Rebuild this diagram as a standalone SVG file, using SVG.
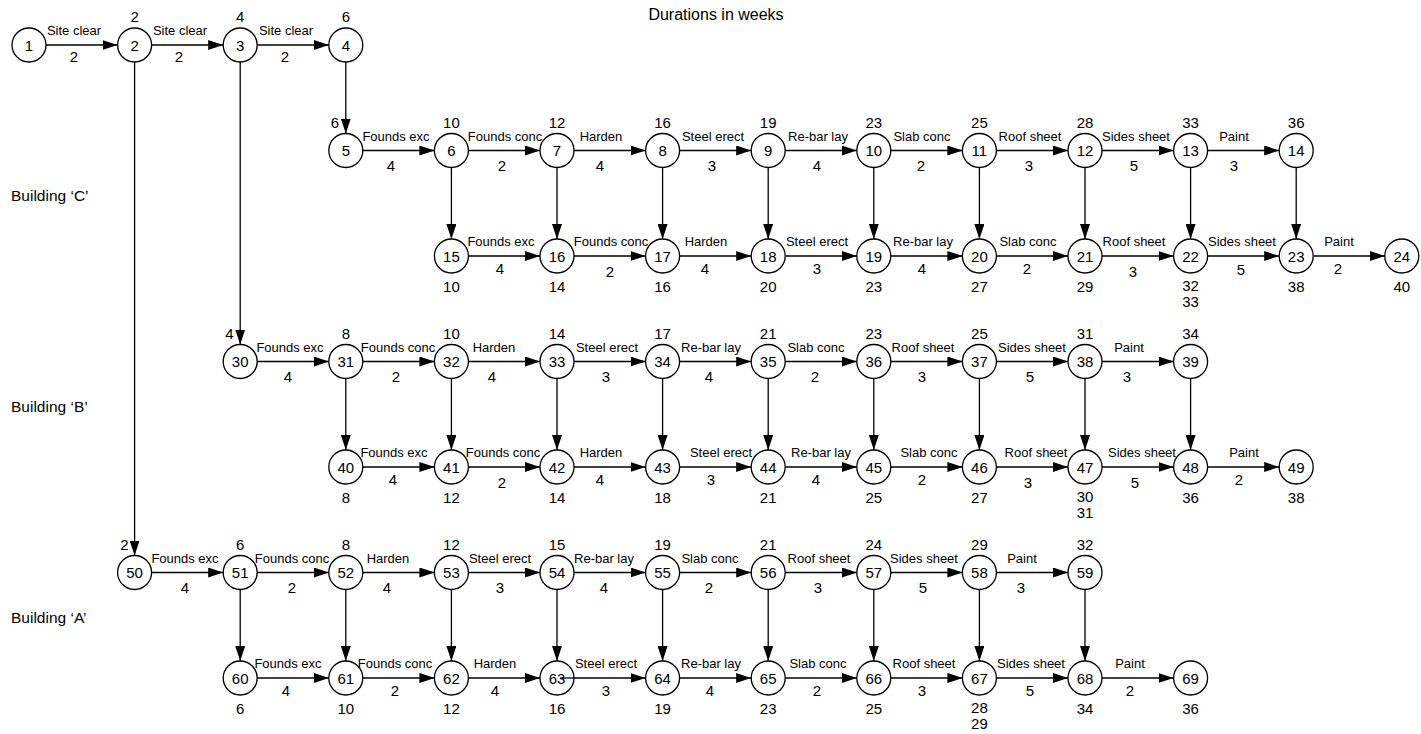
<svg xmlns="http://www.w3.org/2000/svg" width="1421" height="734" viewBox="0 0 1421 734">
<defs>
<marker id="ah" markerUnits="userSpaceOnUse" markerWidth="15" markerHeight="10" refX="15" refY="5" orient="auto"><path d="M0,0 L15,5 L0,10 z" fill="#000"/></marker>
<style>
text{font-family:"Liberation Sans",Arial,Helvetica,sans-serif;fill:#000}
.node circle{fill:#fff;stroke:#000;stroke-width:1.3}
.node text{font-size:15px;text-anchor:middle}
.node text.tl{text-anchor:end}
#connectors line{stroke:#000;stroke-width:1.3;marker-end:url(#ah)}
.lbl{font-size:13px;text-anchor:middle}
.dur{font-size:15px;text-anchor:middle}
.bld{font-size:15.5px}
.title{font-size:16px;text-anchor:middle}
</style>
</defs>
<rect width="1421" height="734" fill="#fff"/>
<text class="title" x="716" y="20">Durations in weeks</text>
<text class="bld" x="11" y="201">Building ‘C’</text>
<text class="bld" x="11" y="412">Building ‘B’</text>
<text class="bld" x="11" y="623">Building ‘A’</text>

<g id="connectors">
<line x1="46" y1="45" x2="117.6" y2="45"/>
<line x1="151.6" y1="45" x2="223.2" y2="45"/>
<line x1="257.2" y1="45" x2="328.8" y2="45"/>
<line x1="345.8" y1="62" x2="345.8" y2="133.5"/>
<line x1="134.6" y1="62" x2="134.6" y2="555.5"/>
<line x1="240.2" y1="62" x2="240.2" y2="344.5"/>
<!-- C top -->
<line x1="362.8" y1="150.5" x2="434.4" y2="150.5"/>
<line x1="468.4" y1="150.5" x2="540" y2="150.5"/>
<line x1="574" y1="150.5" x2="645.6" y2="150.5"/>
<line x1="679.6" y1="150.5" x2="751.2" y2="150.5"/>
<line x1="785.2" y1="150.5" x2="856.8" y2="150.5"/>
<line x1="890.8" y1="150.5" x2="962.4" y2="150.5"/>
<line x1="996.4" y1="150.5" x2="1068" y2="150.5"/>
<line x1="1102" y1="150.5" x2="1173.6" y2="150.5"/>
<line x1="1207.6" y1="150.5" x2="1279.2" y2="150.5"/>
<!-- C verticals -->
<line x1="451.4" y1="167.5" x2="451.4" y2="239"/>
<line x1="557" y1="167.5" x2="557" y2="239"/>
<line x1="662.6" y1="167.5" x2="662.6" y2="239"/>
<line x1="768.2" y1="167.5" x2="768.2" y2="239"/>
<line x1="873.8" y1="167.5" x2="873.8" y2="239"/>
<line x1="979.4" y1="167.5" x2="979.4" y2="239"/>
<line x1="1085" y1="167.5" x2="1085" y2="239"/>
<line x1="1190.6" y1="167.5" x2="1190.6" y2="239"/>
<line x1="1296.2" y1="167.5" x2="1296.2" y2="239"/>
<!-- C bottom -->
<line x1="468.4" y1="256" x2="540" y2="256"/>
<line x1="574" y1="256" x2="645.6" y2="256"/>
<line x1="679.6" y1="256" x2="751.2" y2="256"/>
<line x1="785.2" y1="256" x2="856.8" y2="256"/>
<line x1="890.8" y1="256" x2="962.4" y2="256"/>
<line x1="996.4" y1="256" x2="1068" y2="256"/>
<line x1="1102" y1="256" x2="1173.6" y2="256"/>
<line x1="1207.6" y1="256" x2="1279.2" y2="256"/>
<line x1="1313.2" y1="256" x2="1384.8" y2="256"/>
<!-- B top -->
<line x1="257.2" y1="361.5" x2="328.8" y2="361.5"/>
<line x1="362.8" y1="361.5" x2="434.4" y2="361.5"/>
<line x1="468.4" y1="361.5" x2="540" y2="361.5"/>
<line x1="574" y1="361.5" x2="645.6" y2="361.5"/>
<line x1="679.6" y1="361.5" x2="751.2" y2="361.5"/>
<line x1="785.2" y1="361.5" x2="856.8" y2="361.5"/>
<line x1="890.8" y1="361.5" x2="962.4" y2="361.5"/>
<line x1="996.4" y1="361.5" x2="1068" y2="361.5"/>
<line x1="1102" y1="361.5" x2="1173.6" y2="361.5"/>
<!-- B verticals -->
<line x1="345.8" y1="378.5" x2="345.8" y2="450"/>
<line x1="451.4" y1="378.5" x2="451.4" y2="450"/>
<line x1="557" y1="378.5" x2="557" y2="450"/>
<line x1="662.6" y1="378.5" x2="662.6" y2="450"/>
<line x1="768.2" y1="378.5" x2="768.2" y2="450"/>
<line x1="873.8" y1="378.5" x2="873.8" y2="450"/>
<line x1="979.4" y1="378.5" x2="979.4" y2="450"/>
<line x1="1085" y1="378.5" x2="1085" y2="450"/>
<line x1="1190.6" y1="378.5" x2="1190.6" y2="450"/>
<!-- B bottom -->
<line x1="362.8" y1="467" x2="434.4" y2="467"/>
<line x1="468.4" y1="467" x2="540" y2="467"/>
<line x1="574" y1="467" x2="645.6" y2="467"/>
<line x1="679.6" y1="467" x2="751.2" y2="467"/>
<line x1="785.2" y1="467" x2="856.8" y2="467"/>
<line x1="890.8" y1="467" x2="962.4" y2="467"/>
<line x1="996.4" y1="467" x2="1068" y2="467"/>
<line x1="1102" y1="467" x2="1173.6" y2="467"/>
<line x1="1207.6" y1="467" x2="1279.2" y2="467"/>
<!-- A top -->
<line x1="151.6" y1="572.5" x2="223.2" y2="572.5"/>
<line x1="257.2" y1="572.5" x2="328.8" y2="572.5"/>
<line x1="362.8" y1="572.5" x2="434.4" y2="572.5"/>
<line x1="468.4" y1="572.5" x2="540" y2="572.5"/>
<line x1="574" y1="572.5" x2="645.6" y2="572.5"/>
<line x1="679.6" y1="572.5" x2="751.2" y2="572.5"/>
<line x1="785.2" y1="572.5" x2="856.8" y2="572.5"/>
<line x1="890.8" y1="572.5" x2="962.4" y2="572.5"/>
<line x1="996.4" y1="572.5" x2="1068" y2="572.5"/>
<!-- A verticals -->
<line x1="240.2" y1="589.5" x2="240.2" y2="661"/>
<line x1="345.8" y1="589.5" x2="345.8" y2="661"/>
<line x1="451.4" y1="589.5" x2="451.4" y2="661"/>
<line x1="557" y1="589.5" x2="557" y2="661"/>
<line x1="662.6" y1="589.5" x2="662.6" y2="661"/>
<line x1="768.2" y1="589.5" x2="768.2" y2="661"/>
<line x1="873.8" y1="589.5" x2="873.8" y2="661"/>
<line x1="979.4" y1="589.5" x2="979.4" y2="661"/>
<line x1="1085" y1="589.5" x2="1085" y2="661"/>
<!-- A bottom -->
<line x1="257.2" y1="678" x2="328.8" y2="678"/>
<line x1="362.8" y1="678" x2="434.4" y2="678"/>
<line x1="468.4" y1="678" x2="540" y2="678"/>
<line x1="560" y1="678" x2="645.6" y2="678"/>
<line x1="679.6" y1="678" x2="751.2" y2="678"/>
<line x1="785.2" y1="678" x2="856.8" y2="678"/>
<line x1="890.8" y1="678" x2="962.4" y2="678"/>
<line x1="996.4" y1="678" x2="1068" y2="678"/>
<line x1="1102" y1="678" x2="1173.6" y2="678"/>
</g>

<g id="edge-labels">
<!-- row 0 -->
<text class="lbl" x="74" y="35">Site clear</text><text class="dur" x="74" y="62">2</text>
<text class="lbl" x="180" y="35">Site clear</text><text class="dur" x="179" y="62">2</text>
<text class="lbl" x="286" y="35">Site clear</text><text class="dur" x="285" y="62">2</text>
<!-- C top -->
<text class="lbl" x="396" y="140.5">Founds exc</text><text class="dur" x="391" y="170.5">4</text>
<text class="lbl" x="505" y="140.5">Founds conc</text><text class="dur" x="502" y="170.5">2</text>
<text class="lbl" x="601" y="140.5">Harden</text><text class="dur" x="600" y="170.5">4</text>
<text class="lbl" x="713" y="140.5">Steel erect</text><text class="dur" x="712" y="170.5">3</text>
<text class="lbl" x="818" y="140.5">Re-bar lay</text><text class="dur" x="817" y="170.5">4</text>
<text class="lbl" x="922" y="140.5">Slab conc</text><text class="dur" x="921" y="170.5">2</text>
<text class="lbl" x="1030" y="140.5">Roof sheet</text><text class="dur" x="1029" y="170.5">3</text>
<text class="lbl" x="1136" y="140.5">Sides sheet</text><text class="dur" x="1134" y="170.5">5</text>
<text class="lbl" x="1234" y="140.5">Paint</text><text class="dur" x="1234" y="170.5">3</text>
<!-- C bottom -->
<text class="lbl" x="501" y="246">Founds exc</text><text class="dur" x="500" y="274">4</text>
<text class="lbl" x="611" y="246">Founds conc</text><text class="dur" x="610" y="276.5">2</text>
<text class="lbl" x="706" y="246">Harden</text><text class="dur" x="705" y="274">4</text>
<text class="lbl" x="817" y="246">Steel erect</text><text class="dur" x="817" y="274">3</text>
<text class="lbl" x="923" y="246">Re-bar lay</text><text class="dur" x="922" y="274">4</text>
<text class="lbl" x="1028" y="246">Slab conc</text><text class="dur" x="1027" y="274">2</text>
<text class="lbl" x="1134" y="246">Roof sheet</text><text class="dur" x="1133" y="276.5">3</text>
<text class="lbl" x="1242" y="246">Sides sheet</text><text class="dur" x="1241" y="275">5</text>
<text class="lbl" x="1339" y="246">Paint</text><text class="dur" x="1338" y="274">2</text>
<!-- B top -->
<text class="lbl" x="290" y="351.5">Founds exc</text><text class="dur" x="288" y="381.5">4</text>
<text class="lbl" x="398" y="351.5">Founds conc</text><text class="dur" x="396" y="381.5">2</text>
<text class="lbl" x="494" y="351.5">Harden</text><text class="dur" x="492" y="381.5">4</text>
<text class="lbl" x="607" y="351.5">Steel erect</text><text class="dur" x="606" y="381.5">3</text>
<text class="lbl" x="711" y="351.5">Re-bar lay</text><text class="dur" x="709" y="381.5">4</text>
<text class="lbl" x="816" y="351.5">Slab conc</text><text class="dur" x="815" y="381.5">2</text>
<text class="lbl" x="923" y="351.5">Roof sheet</text><text class="dur" x="922" y="381.5">3</text>
<text class="lbl" x="1032" y="351.5">Sides sheet</text><text class="dur" x="1030" y="381.5">5</text>
<text class="lbl" x="1129" y="351.5">Paint</text><text class="dur" x="1127" y="381.5">3</text>
<!-- B bottom -->
<text class="lbl" x="394" y="457">Founds exc</text><text class="dur" x="393" y="485">4</text>
<text class="lbl" x="503" y="457">Founds conc</text><text class="dur" x="502" y="487.5">2</text>
<text class="lbl" x="601" y="457">Harden</text><text class="dur" x="600" y="485">4</text>
<text class="lbl" x="721" y="457">Steel erect</text><text class="dur" x="711" y="485">3</text>
<text class="lbl" x="821" y="457">Re-bar lay</text><text class="dur" x="816" y="485">4</text>
<text class="lbl" x="929" y="457">Slab conc</text><text class="dur" x="922" y="485">2</text>
<text class="lbl" x="1036" y="457">Roof sheet</text><text class="dur" x="1028" y="487.5">3</text>
<text class="lbl" x="1142" y="457">Sides sheet</text><text class="dur" x="1135" y="487.5">5</text>
<text class="lbl" x="1244" y="457">Paint</text><text class="dur" x="1239" y="485">2</text>
<!-- A top -->
<text class="lbl" x="185" y="562.5">Founds exc</text><text class="dur" x="185" y="592.5">4</text>
<text class="lbl" x="292" y="562.5">Founds conc</text><text class="dur" x="292" y="592.5">2</text>
<text class="lbl" x="388" y="562.5">Harden</text><text class="dur" x="387" y="592.5">4</text>
<text class="lbl" x="500" y="562.5">Steel erect</text><text class="dur" x="500" y="592.5">3</text>
<text class="lbl" x="604" y="562.5">Re-bar lay</text><text class="dur" x="604" y="592.5">4</text>
<text class="lbl" x="710" y="562.5">Slab conc</text><text class="dur" x="709" y="592.5">2</text>
<text class="lbl" x="819" y="562.5">Roof sheet</text><text class="dur" x="818" y="592.5">3</text>
<text class="lbl" x="924" y="562.5">Sides sheet</text><text class="dur" x="923" y="592.5">5</text>
<text class="lbl" x="1022" y="562.5">Paint</text><text class="dur" x="1021" y="592.5">3</text>
<!-- A bottom -->
<text class="lbl" x="288" y="668">Founds exc</text><text class="dur" x="286" y="696">4</text>
<text class="lbl" x="395" y="668">Founds conc</text><text class="dur" x="395" y="696">2</text>
<text class="lbl" x="495" y="668">Harden</text><text class="dur" x="495" y="696">4</text>
<text class="lbl" x="606" y="668">Steel erect</text><text class="dur" x="606" y="696">3</text>
<text class="lbl" x="711" y="668">Re-bar lay</text><text class="dur" x="710" y="696">4</text>
<text class="lbl" x="818" y="668">Slab conc</text><text class="dur" x="817" y="696">2</text>
<text class="lbl" x="924" y="668">Roof sheet</text><text class="dur" x="922" y="696">3</text>
<text class="lbl" x="1031" y="668">Sides sheet</text><text class="dur" x="1030" y="696">5</text>
<text class="lbl" x="1130" y="668">Paint</text><text class="dur" x="1130" y="696">2</text>
</g>

<g id="nodes">
<g id="n1" class="node"><circle cx="29" cy="45" r="17"/><text x="29" y="50.5">1</text></g>
<g id="n2" class="node"><circle cx="134.6" cy="45" r="17"/><text x="134.6" y="50.5">2</text><text x="134.6" y="22">2</text></g>
<g id="n3" class="node"><circle cx="240.2" cy="45" r="17"/><text x="240.2" y="50.5">3</text><text x="240.2" y="22">4</text></g>
<g id="n4" class="node"><circle cx="345.8" cy="45" r="17"/><text x="345.8" y="50.5">4</text><text x="345.8" y="22">6</text></g>

<g id="n5" class="node"><circle cx="345.8" cy="150.5" r="17"/><text x="345.8" y="156">5</text><text class="tl" x="339" y="127.5">6</text></g>
<g id="n6" class="node"><circle cx="451.4" cy="150.5" r="17"/><text x="451.4" y="156">6</text><text x="451.4" y="127.5">10</text></g>
<g id="n7" class="node"><circle cx="557" cy="150.5" r="17"/><text x="557" y="156">7</text><text x="557" y="127.5">12</text></g>
<g id="n8" class="node"><circle cx="662.6" cy="150.5" r="17"/><text x="662.6" y="156">8</text><text x="662.6" y="127.5">16</text></g>
<g id="n9" class="node"><circle cx="768.2" cy="150.5" r="17"/><text x="768.2" y="156">9</text><text x="768.2" y="127.5">19</text></g>
<g id="n10" class="node"><circle cx="873.8" cy="150.5" r="17"/><text x="873.8" y="156">10</text><text x="873.8" y="127.5">23</text></g>
<g id="n11" class="node"><circle cx="979.4" cy="150.5" r="17"/><text x="979.4" y="156">11</text><text x="979.4" y="127.5">25</text></g>
<g id="n12" class="node"><circle cx="1085" cy="150.5" r="17"/><text x="1085" y="156">12</text><text x="1085" y="127.5">28</text></g>
<g id="n13" class="node"><circle cx="1190.6" cy="150.5" r="17"/><text x="1190.6" y="156">13</text><text x="1190.6" y="127.5">33</text></g>
<g id="n14" class="node"><circle cx="1296.2" cy="150.5" r="17"/><text x="1296.2" y="156">14</text><text x="1296.2" y="127.5">36</text></g>

<g id="n15" class="node"><circle cx="451.4" cy="256" r="17"/><text x="451.4" y="261.5">15</text><text x="451.4" y="292">10</text></g>
<g id="n16" class="node"><circle cx="557" cy="256" r="17"/><text x="557" y="261.5">16</text><text x="557" y="292">14</text></g>
<g id="n17" class="node"><circle cx="662.6" cy="256" r="17"/><text x="662.6" y="261.5">17</text><text x="662.6" y="292">16</text></g>
<g id="n18" class="node"><circle cx="768.2" cy="256" r="17"/><text x="768.2" y="261.5">18</text><text x="768.2" y="292">20</text></g>
<g id="n19" class="node"><circle cx="873.8" cy="256" r="17"/><text x="873.8" y="261.5">19</text><text x="873.8" y="292">23</text></g>
<g id="n20" class="node"><circle cx="979.4" cy="256" r="17"/><text x="979.4" y="261.5">20</text><text x="979.4" y="292">27</text></g>
<g id="n21" class="node"><circle cx="1085" cy="256" r="17"/><text x="1085" y="261.5">21</text><text x="1085" y="292">29</text></g>
<g id="n22" class="node"><circle cx="1190.6" cy="256" r="17"/><text x="1190.6" y="261.5">22</text><text x="1190.6" y="291">32</text><text x="1190.6" y="307">33</text></g>
<g id="n23" class="node"><circle cx="1296.2" cy="256" r="17"/><text x="1296.2" y="261.5">23</text><text x="1296.2" y="292">38</text></g>
<g id="n24" class="node"><circle cx="1401.8" cy="256" r="17"/><text x="1401.8" y="261.5">24</text><text x="1401.8" y="292">40</text></g>

<g id="n30" class="node"><circle cx="240.2" cy="361.5" r="17"/><text x="240.2" y="367">30</text><text class="tl" x="233.5" y="338.5">4</text></g>
<g id="n31" class="node"><circle cx="345.8" cy="361.5" r="17"/><text x="345.8" y="367">31</text><text x="345.8" y="338.5">8</text></g>
<g id="n32" class="node"><circle cx="451.4" cy="361.5" r="17"/><text x="451.4" y="367">32</text><text x="451.4" y="338.5">10</text></g>
<g id="n33" class="node"><circle cx="557" cy="361.5" r="17"/><text x="557" y="367">33</text><text x="557" y="338.5">14</text></g>
<g id="n34" class="node"><circle cx="662.6" cy="361.5" r="17"/><text x="662.6" y="367">34</text><text x="662.6" y="338.5">17</text></g>
<g id="n35" class="node"><circle cx="768.2" cy="361.5" r="17"/><text x="768.2" y="367">35</text><text x="768.2" y="338.5">21</text></g>
<g id="n36" class="node"><circle cx="873.8" cy="361.5" r="17"/><text x="873.8" y="367">36</text><text x="873.8" y="338.5">23</text></g>
<g id="n37" class="node"><circle cx="979.4" cy="361.5" r="17"/><text x="979.4" y="367">37</text><text x="979.4" y="338.5">25</text></g>
<g id="n38" class="node"><circle cx="1085" cy="361.5" r="17"/><text x="1085" y="367">38</text><text x="1085" y="338.5">31</text></g>
<g id="n39" class="node"><circle cx="1190.6" cy="361.5" r="17"/><text x="1190.6" y="367">39</text><text x="1190.6" y="338.5">34</text></g>

<g id="n40" class="node"><circle cx="345.8" cy="467" r="17"/><text x="345.8" y="472.5">40</text><text x="345.8" y="503">8</text></g>
<g id="n41" class="node"><circle cx="451.4" cy="467" r="17"/><text x="451.4" y="472.5">41</text><text x="451.4" y="503">12</text></g>
<g id="n42" class="node"><circle cx="557" cy="467" r="17"/><text x="557" y="472.5">42</text><text x="557" y="503">14</text></g>
<g id="n43" class="node"><circle cx="662.6" cy="467" r="17"/><text x="662.6" y="472.5">43</text><text x="662.6" y="503">18</text></g>
<g id="n44" class="node"><circle cx="768.2" cy="467" r="17"/><text x="768.2" y="472.5">44</text><text x="768.2" y="503">21</text></g>
<g id="n45" class="node"><circle cx="873.8" cy="467" r="17"/><text x="873.8" y="472.5">45</text><text x="873.8" y="503">25</text></g>
<g id="n46" class="node"><circle cx="979.4" cy="467" r="17"/><text x="979.4" y="472.5">46</text><text x="979.4" y="503">27</text></g>
<g id="n47" class="node"><circle cx="1085" cy="467" r="17"/><text x="1085" y="472.5">47</text><text x="1085" y="502">30</text><text x="1085" y="518">31</text></g>
<g id="n48" class="node"><circle cx="1190.6" cy="467" r="17"/><text x="1190.6" y="472.5">48</text><text x="1190.6" y="503">36</text></g>
<g id="n49" class="node"><circle cx="1296.2" cy="467" r="17"/><text x="1296.2" y="472.5">49</text><text x="1296.2" y="503">38</text></g>

<g id="n50" class="node"><circle cx="134.6" cy="572.5" r="17"/><text x="134.6" y="578">50</text><text class="tl" x="128.5" y="549.5">2</text></g>
<g id="n51" class="node"><circle cx="240.2" cy="572.5" r="17"/><text x="240.2" y="578">51</text><text x="240.2" y="549.5">6</text></g>
<g id="n52" class="node"><circle cx="345.8" cy="572.5" r="17"/><text x="345.8" y="578">52</text><text x="345.8" y="549.5">8</text></g>
<g id="n53" class="node"><circle cx="451.4" cy="572.5" r="17"/><text x="451.4" y="578">53</text><text x="451.4" y="549.5">12</text></g>
<g id="n54" class="node"><circle cx="557" cy="572.5" r="17"/><text x="557" y="578">54</text><text x="557" y="549.5">15</text></g>
<g id="n55" class="node"><circle cx="662.6" cy="572.5" r="17"/><text x="662.6" y="578">55</text><text x="662.6" y="549.5">19</text></g>
<g id="n56" class="node"><circle cx="768.2" cy="572.5" r="17"/><text x="768.2" y="578">56</text><text x="768.2" y="549.5">21</text></g>
<g id="n57" class="node"><circle cx="873.8" cy="572.5" r="17"/><text x="873.8" y="578">57</text><text x="873.8" y="549.5">24</text></g>
<g id="n58" class="node"><circle cx="979.4" cy="572.5" r="17"/><text x="979.4" y="578">58</text><text x="979.4" y="549.5">29</text></g>
<g id="n59" class="node"><circle cx="1085" cy="572.5" r="17"/><text x="1085" y="578">59</text><text x="1085" y="549.5">32</text></g>

<g id="n60" class="node"><circle cx="240.2" cy="678" r="17"/><text x="240.2" y="683.5">60</text><text x="240.2" y="714">6</text></g>
<g id="n61" class="node"><circle cx="345.8" cy="678" r="17"/><text x="345.8" y="683.5">61</text><text x="345.8" y="714">10</text></g>
<g id="n62" class="node"><circle cx="451.4" cy="678" r="17"/><text x="451.4" y="683.5">62</text><text x="451.4" y="714">12</text></g>
<g id="n63" class="node"><circle cx="557" cy="678" r="17"/><text x="557" y="683.5">63</text><text x="557" y="714">16</text></g>
<g id="n64" class="node"><circle cx="662.6" cy="678" r="17"/><text x="662.6" y="683.5">64</text><text x="662.6" y="714">19</text></g>
<g id="n65" class="node"><circle cx="768.2" cy="678" r="17"/><text x="768.2" y="683.5">65</text><text x="768.2" y="714">23</text></g>
<g id="n66" class="node"><circle cx="873.8" cy="678" r="17"/><text x="873.8" y="683.5">66</text><text x="873.8" y="714">25</text></g>
<g id="n67" class="node"><circle cx="979.4" cy="678" r="17"/><text x="979.4" y="683.5">67</text><text x="979.4" y="713">28</text><text x="979.4" y="729">29</text></g>
<g id="n68" class="node"><circle cx="1085" cy="678" r="17"/><text x="1085" y="683.5">68</text><text x="1085" y="714">34</text></g>
<g id="n69" class="node"><circle cx="1190.6" cy="678" r="17"/><text x="1190.6" y="683.5">69</text><text x="1190.6" y="714">36</text></g>
</g>

<line x1="560" y1="678" x2="574" y2="678" stroke="#000" stroke-width="1.3"/>
</svg>
